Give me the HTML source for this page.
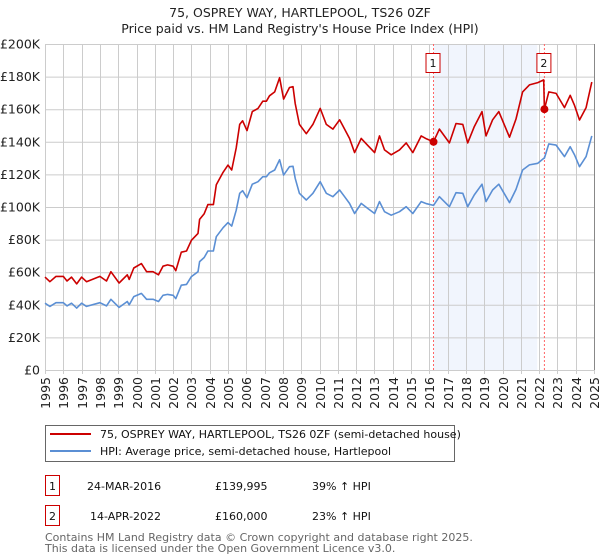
<!DOCTYPE html>
<html><head><meta charset="utf-8">
<style>
body{margin:0;background:#fff;font-family:"DejaVu Sans","Liberation Sans",sans-serif;}
#wrap{position:relative;width:600px;height:560px;overflow:hidden;}
svg text{font-family:"DejaVu Sans","Liberation Sans",sans-serif;}
</style></head>
<body>
<div id="wrap">
<svg id="chart" width="600" height="560">
<text x="300" y="17" text-anchor="middle" font-size="12.5" fill="#222">75, OSPREY WAY, HARTLEPOOL, TS26 0ZF</text>
<text x="300" y="33" text-anchor="middle" font-size="12.5" fill="#222">Price paid vs. HM Land Registry's House Price Index (HPI)</text>
<g id="grid"></g>
<g id="series"></g>
<g id="legend">
<rect x="45.5" y="425.5" width="409" height="36" fill="#fff" stroke="#666"/>
<line x1="50" y1="434" x2="91" y2="434" stroke="#cc0000" stroke-width="2"/>
<text x="100" y="438" font-size="11" fill="#111">75, OSPREY WAY, HARTLEPOOL, TS26 0ZF (semi-detached house)</text>
<line x1="50" y1="451" x2="91" y2="451" stroke="#5b8fd4" stroke-width="2"/>
<text x="100" y="455" font-size="11" fill="#111">HPI: Average price, semi-detached house, Hartlepool</text>
</g>
<g font-size="11" fill="#111">
<rect x="45.5" y="475.5" width="14" height="20" fill="#fff" stroke="#cc0000"/>
<text x="52.5" y="490" text-anchor="middle">1</text>
<text x="87" y="490">24-MAR-2016</text>
<text x="215" y="490">£139,995</text>
<text x="312" y="490">39% ↑ HPI</text>
<rect x="45.5" y="505.5" width="14" height="20" fill="#fff" stroke="#cc0000"/>
<text x="52.5" y="520" text-anchor="middle">2</text>
<text x="90" y="520">14-APR-2022</text>
<text x="215" y="520">£160,000</text>
<text x="312" y="520">23% ↑ HPI</text>
</g>
<text x="45" y="541" font-size="11" fill="#666">Contains HM Land Registry data © Crown copyright and database right 2025.</text>
<text x="45" y="552" font-size="11" fill="#666">This data is licensed under the Open Government Licence v3.0.</text>
</svg>
</div>
<script>
const years=[1995,1995.27,1995.6,1996,1996.2,1996.45,1996.73,1997,1997.27,1998,1998.36,1998.6,1999.05,1999.5,1999.6,1999.85,2000.27,2000.55,2000.9,2001.2,2001.45,2001.7,2002,2002.15,2002.45,2002.73,2003,2003.36,2003.45,2003.7,2003.9,2004.2,2004.36,2004.73,2005,2005.2,2005.45,2005.64,2005.8,2006.04,2006.33,2006.64,2006.9,2007.1,2007.27,2007.55,2007.82,2008.04,2008.36,2008.55,2008.67,2008.9,2009.28,2009.64,2010.04,2010.37,2010.73,2011.1,2011.37,2011.64,2011.92,2012.28,2012.65,2013.01,2013.28,2013.55,2013.92,2014.37,2014.74,2015.1,2015.56,2015.85,2016.23,2016.55,2017.1,2017.46,2017.83,2018.1,2018.46,2018.88,2019.1,2019.46,2019.8,2020.38,2020.74,2021.1,2021.47,2021.93,2022.25,2022.29,2022.53,2022.93,2023.39,2023.7,2023.94,2024.21,2024.57,2024.88];
const hpiValues=[41,39,41.3,41.3,39.3,41,38,41,39,41.3,39.3,43.4,38.4,42,40,45,47,43.4,43.4,42,45.8,46.4,45.8,43.8,52,52.5,57.3,60.3,66.5,69,73,73,81.8,87.3,90.4,88.3,98,108.4,110,105.7,114,115.5,118.6,118.6,121,122.7,129,119.6,124.7,125,117.6,108.4,104.3,108.4,115.5,108.4,106.3,110.4,106.3,102.2,96,102.2,99,96,103.3,97.1,95,97.1,100.2,96,103.3,102,101,106.3,100.2,108.8,108.4,100.2,107.4,114,103.3,110.4,114,102.7,110.8,122.7,125.8,126.8,129.8,130,138.7,138,130.9,137,131.9,124.7,130.9,143.6];
const priceValues=[57,54.2,57.4,57.4,54.6,57,52.8,57,54.2,57.4,54.6,60.3,53.4,58.4,55.6,62.6,65.3,60.3,60.3,58.4,63.7,64.5,63.7,60.9,72.3,73,79.6,83.8,92.4,95.9,101.5,101.5,113.7,121.3,125.7,122.7,136.2,150.7,152.9,146.9,158.5,160.5,164.9,164.9,168.2,170.6,179.3,166.2,173.3,173.8,163.5,150.7,145,150.7,160.5,150.7,147.8,153.5,147.8,142.1,133.4,142.1,137.6,133.4,143.6,135,132,135,139.3,133.4,143.6,141.8,140,147.8,139.3,151.2,150.7,139.3,149.3,158.5,143.6,153.5,158.5,142.8,154,170.6,174.9,176.3,178,160,170.6,169.7,161,168.5,162.2,153.4,161,176.6];
const yTicks=[0,20,40,60,80,100,120,140,160,180,200];
const yTickLabels=["£0","£20K","£40K","£60K","£80K","£100K","£120K","£140K","£160K","£180K","£200K"];
const xTicks=[1995,1996,1997,1998,1999,2000,2001,2002,2003,2004,2005,2006,2007,2008,2009,2010,2011,2012,2013,2014,2015,2016,2017,2018,2019,2020,2021,2022,2023,2024,2025];
const saleYears=[2016.23,2022.29];
const saleValues=[139.995,160];
const saleLabels=["1","2"];
const shadeRange=[2016.23,2021.9];

const X0=45,X1=594,Y0=370,Y1=44;
const xs=y=>X0+(y-1995)/(2025-1995)*(X1-X0);
const ys=v=>Y0-v/200*(Y0-Y1);
const NS="http://www.w3.org/2000/svg";
function mk(tag,attrs,parent){const e=document.createElementNS(NS,tag);for(const k in attrs)e.setAttribute(k,attrs[k]);parent.appendChild(e);return e;}
const grid=document.getElementById('grid'),ser=document.getElementById('series');

const sh=mk('rect',{x:xs(shadeRange[0]),y:Y1,width:xs(shadeRange[1])-xs(shadeRange[0]),height:Y0-Y1,fill:'#eef3fc',opacity:0.8},grid);



yTicks.forEach((t,i)=>{
 const l=mk('line',{x1:X0,x2:X1,y1:ys(t)+0.5,y2:ys(t)+0.5,stroke:'#ccc','stroke-width':1},grid);
 
 
 const tx=mk('text',{x:40,y:ys(t)+4.5,'text-anchor':'end','font-size':12.5,fill:'#222'},grid);
 tx.textContent=yTickLabels[i];
 
 
});
xTicks.forEach(t=>{
 const x=Math.round(xs(t))+0.5;
 const l=mk('line',{x1:x,x2:x,y1:Y1,y2:Y0+4,stroke:'#ccc','stroke-width':1},grid);
 
 
 const tx=mk('text',{x:0,y:0,'text-anchor':'end','font-size':12.5,fill:'#222',transform:`translate(${x+4.5},${Y0+7}) rotate(-90)`},grid);
 tx.textContent=String(t);
 
 
});
const ax=mk('line',{x1:X1+0.5,x2:X1+0.5,y1:Y1,y2:Y0,stroke:'#888','stroke-width':1},grid);



saleYears.forEach((s,i)=>{
 const x=xs(s);
 const l=mk('line',{x1:x,x2:x,y1:Y1,y2:Y0,stroke:'#ff6666','stroke-width':1,'stroke-dasharray':'2,2'},ser);
 
 
 const r=mk('rect',{x:x-7.5,y:53.5,width:14,height:19,fill:'#fff',stroke:'#cc0000'},ser);
 
 
 const t=mk('text',{x:x-0.5,y:67,'text-anchor':'middle','font-size':11,fill:'#111'},ser);
 t.textContent=saleLabels[i];
 
 
});

function pathD(vals){return years.map((y,i)=>(i?'L':'M')+xs(y).toFixed(1)+','+ys(vals[i]).toFixed(1)).join('');}
const hp=mk('path',{d:pathD(hpiValues),fill:'none',stroke:'#5b8fd4','stroke-width':1.6,'stroke-linejoin':'round'},ser);


const pp=mk('path',{d:pathD(priceValues),fill:'none',stroke:'#cc0000','stroke-width':1.6,'stroke-linejoin':'round'},ser);


saleYears.forEach((s,i)=>{
 const c=mk('circle',{cx:xs(s),cy:ys(saleValues[i]),r:4,fill:'#cc0000'},ser);
 
 
});
</script>
</body></html>
